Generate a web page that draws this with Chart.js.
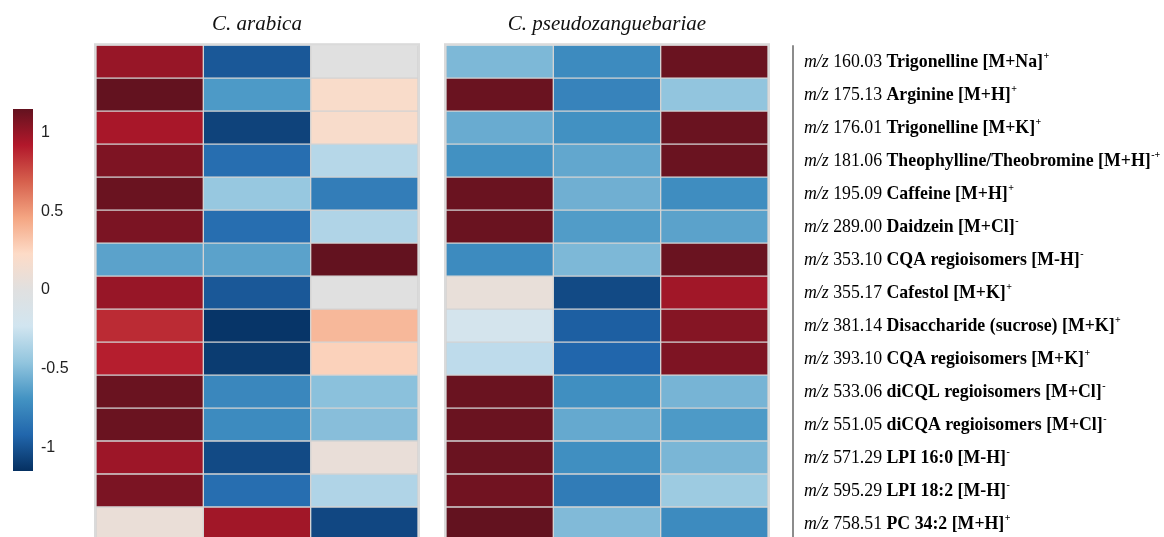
<!DOCTYPE html>
<html>
<head>
<meta charset="utf-8">
<script src="https://cdn.jsdelivr.net/npm/chart.js@4.4.0/dist/chart.umd.min.js"></script>
<style>
  html, body { margin:0; padding:0; background:#fff; overflow:hidden; }
  body { width:1164px; height:537px; position:relative; }
  .box { position:absolute; top:0; }
  #scaleBox { left:0; width:80px; height:537px; }
  #arabicaBox { left:90px; width:334px; height:540px; }
  #pseudoBox { left:440px; width:724px; height:540px; }
</style>
</head>
<body>
<div class="box" id="scaleBox"><canvas id="scaleChart"></canvas></div>
<div class="box" id="arabicaBox"><canvas id="arabicaChart"></canvas></div>
<div class="box" id="pseudoBox"><canvas id="pseudoChart"></canvas></div>
<script>
// row annotations
const mzValues = ['160.03','175.13','176.01','181.06','195.09','289.00','353.10','355.17','381.14','393.10','533.06','551.05','571.29','595.29','758.51'];
const compounds = ['Trigonelline','Arginine','Trigonelline','Theophylline/Theobromine','Caffeine','Daidzein','CQA regioisomers','Cafestol','Disaccharide (sucrose)','CQA regioisomers','diCQL regioisomers','diCQA regioisomers','LPI 16:0','LPI 18:2','PC 34:2'];
const adducts = ['[M+Na]','[M+H]','[M+K]','[M+H]','[M+H]','[M+Cl]','[M-H]','[M+K]','[M+K]','[M+K]','[M+Cl]','[M+Cl]','[M-H]','[M-H]','[M+H]'];
const charges = ['+','+','+','-+','+','-','-','+','+','+','-','-','-','-','+'];

// scaled intensities, one row per ion, 3 replicates each
const arabica = [
  [1.00, -0.98, 0.00],
  [1.15, -0.66, 0.20],
  [0.95, -1.07, 0.19],
  [1.07, -0.88, -0.33],
  [1.13, -0.44, -0.80],
  [1.08, -0.88, -0.35],
  [-0.62, -0.62, 1.15],
  [1.00, -0.98, 0.00],
  [0.86, -1.13, 0.38],
  [0.90, -1.10, 0.27],
  [1.13, -0.75, -0.48],
  [1.13, -0.73, -0.49],
  [0.98, -1.04, 0.07],
  [1.08, -0.88, -0.35],
  [0.08, 0.97, -1.05]
];
const pseudo = [
  [-0.52, -0.73, 1.13],
  [1.13, -0.77, -0.46],
  [-0.58, -0.70, 1.13],
  [-0.70, -0.60, 1.13],
  [1.13, -0.56, -0.72],
  [1.13, -0.65, -0.62],
  [-0.73, -0.52, 1.13],
  [0.06, -1.04, 0.97],
  [-0.18, -0.95, 1.05],
  [-0.30, -0.92, 1.07],
  [1.13, -0.71, -0.54],
  [1.13, -0.59, -0.66],
  [1.13, -0.71, -0.53],
  [1.11, -0.81, -0.42],
  [1.15, -0.51, -0.73]
];
const colorbarTicks = [-1, -0.5, 0, 0.5, 1];
const scaleMin = -1.15, scaleMax = 1.15;

const paletteStops = [-1.15,-0.92,-0.69,-0.46,-0.23,0,0.23,0.46,0.69,0.92,1.15];
const paletteColors = ['#053061','#2166ac','#4393c3','#92c5de','#d1e5f0','#e0e0e0','#fddbc7','#f4a582','#d6604d','#b2182b','#63121f'];

function hexRgb(h) { return [1,3,5].map(i => parseInt(h.substr(i,2),16)); }
function colorFor(v) {
  v = Math.max(scaleMin, Math.min(scaleMax, v));
  let i = 0;
  while (i < paletteStops.length - 2 && v > paletteStops[i+1]) i++;
  const t = (v - paletteStops[i]) / (paletteStops[i+1] - paletteStops[i]);
  const a = hexRgb(paletteColors[i]), b = hexRgb(paletteColors[i+1]);
  const c = a.map((x, k) => Math.round(x + (b[k] - x) * t));
  return 'rgb(' + c.join(',') + ')';
}

const rowLabels = mzValues.map((m, i) => 'm/z ' + m + ' ' + compounds[i] + ' ' + adducts[i] + charges[i]);

// thin grey frame round each heatmap panel
const framePlugin = {
  id: 'frame',
  afterDatasetsDraw(chart) {
    const a = chart.chartArea, ctx = chart.ctx;
    ctx.save();
    ctx.strokeStyle = '#dadada'; ctx.lineWidth = 2;
    ctx.strokeRect(a.left - 1, a.top - 1, a.right - a.left + 2, a.bottom - a.top + 2);
    ctx.restore();
  }
};

// rich-text row labels placed on the category scale
const rowLabelPlugin = {
  id: 'rowLabels',
  afterDraw(chart) {
    const ctx = chart.ctx, y = chart.scales.y, area = chart.chartArea;
    const lineX = area.right + 25, textX = area.right + 36;
    ctx.save();
    ctx.strokeStyle = '#8c8c8c'; ctx.lineWidth = 2;
    ctx.beginPath(); ctx.moveTo(lineX, area.top); ctx.lineTo(lineX, chart.height); ctx.stroke();
    ctx.textBaseline = 'middle'; ctx.fillStyle = '#000';
    mzValues.forEach((mz, i) => {
      const py = y.getPixelForValue(i) + 1;
      let x = textX;
      const parts = [
        ['italic 17.8px "Liberation Serif"', 'm/z'],
        ['17.8px "Liberation Serif"', ' ' + mz + ' '],
        ['bold 17.8px "Liberation Serif"', compounds[i] + ' ' + adducts[i]]
      ];
      parts.forEach(([font, text]) => {
        ctx.font = font;
        ctx.fillText(text, x, py);
        x += ctx.measureText(text).width;
      });
      ctx.font = 'bold 10px "Liberation Serif"';
      ctx.fillText(charges[i], x + 0.5, py - 6);
    });
    ctx.restore();
  }
};

function heatmap(id, title, rows, rightPad, extraPlugins) {
  const datasets = [0, 1, 2].map(j => ({
    label: title + ' ' + (j + 1),
    data: rows.map(() => [j, j + 1]),
    backgroundColor: rows.map(r => colorFor(r[j])),
    borderColor: '#d3d3d3',
    borderWidth: 1,
    borderSkipped: false,
    barPercentage: 1,
    categoryPercentage: 1,
    grouped: false
  }));
  return new Chart(document.getElementById(id), {
    type: 'bar',
    data: { labels: rowLabels, datasets },
    options: {
      indexAxis: 'y',
      responsive: true,
      maintainAspectRatio: false,
      animation: false,
      layout: { padding: { left: 6, right: rightPad, top: 0, bottom: 0 } },
      scales: {
        x: { type: 'linear', min: 0, max: 3, display: false },
        y: { type: 'category', display: false }
      },
      plugins: {
        legend: { display: false },
        tooltip: { enabled: false },
        title: {
          display: true, text: title, color: '#111',
          font: { family: '"Liberation Serif"', size: 21, style: 'italic', weight: 'normal' },
          padding: { top: 12, bottom: 8 }
        }
      }
    },
    plugins: [framePlugin].concat(extraPlugins)
  });
}

heatmap('arabicaChart', 'C. arabica', arabica, 6, []);
heatmap('pseudoChart', 'C. pseudozanguebariae', pseudo, 396, [rowLabelPlugin]);

// colour key
new Chart(document.getElementById('scaleChart'), {
  type: 'bar',
  data: {
    labels: ['key'],
    datasets: [{
      data: [[scaleMin, scaleMax]],
      barPercentage: 1,
      categoryPercentage: 1,
      borderWidth: 0,
      backgroundColor(ctx) {
        const chart = ctx.chart, ys = chart.scales.y;
        if (!chart.chartArea || !ys) return '#ccc';
        const g = chart.ctx.createLinearGradient(0, ys.getPixelForValue(scaleMin), 0, ys.getPixelForValue(scaleMax));
        paletteStops.forEach((s, i) => g.addColorStop((s - scaleMin) / (scaleMax - scaleMin), paletteColors[i]));
        return g;
      }
    }]
  },
  options: {
    responsive: true,
    maintainAspectRatio: false,
    animation: false,
    layout: { padding: { left: 13, top: 109, bottom: 66, right: 0 } },
    scales: {
      x: { display: false },
      y: {
        position: 'right', min: scaleMin, max: scaleMax,
        afterBuildTicks(scale) { scale.ticks = colorbarTicks.map(v => ({ value: v })); },
        afterFit(scale) { scale.width = 47; },
        grid: { display: false, drawTicks: false },
        border: { display: false },
        ticks: {
          padding: 8, color: '#222',
          font: { family: '"Liberation Sans"', size: 16 },
          callback: v => String(v)
        }
      }
    },
    plugins: { legend: { display: false }, tooltip: { enabled: false } }
  }
});
</script>
</body>
</html>
